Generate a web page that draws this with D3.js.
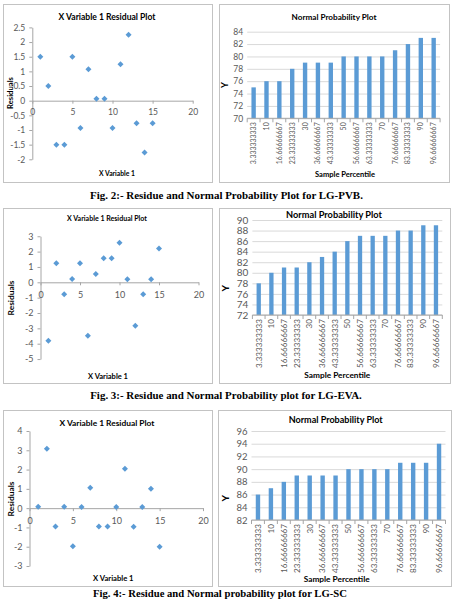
<!DOCTYPE html>
<html>
<head>
<meta charset="utf-8">
<script src="https://cdn.jsdelivr.net/npm/d3@7/dist/d3.min.js"></script>
<style>
  html, body { margin: 0; padding: 0; background: #fff; }
  svg { display: block; }
</style>
</head>
<body>
<svg id="fig" width="454" height="600"></svg>
<script>
// ---------------- DATA ----------------
const xVariable = [1, 2, 3, 4, 5, 6, 7, 8, 9, 10, 11, 12, 13, 14, 15];

// Residuals, Fig. 2 (LG-PVB)
const residualsPVB = [1.5, 0.5, -1.5, -1.5, 1.5, -0.93, 1.07, 0.07, 0.07, -0.93, 1.24, 2.25, -0.77, -1.77, -0.77];
// Residuals, Fig. 3 (LG-EVA)
const residualsEVA = [-3.8, 1.24, -0.78, 0.22, 1.24, -3.48, 0.54, 1.56, 1.56, 2.58, 0.2, -2.83, -0.78, 0.2, 2.21];
// Residuals, Fig. 4 (LG-SC)
const residualsSC = [0.07, 3.08, -0.95, 0.07, -1.97, 0.06, 1.06, -0.95, -0.95, 0.06, 2.04, -0.97, 0.06, 1.0, -2.0];

const samplePercentile = ["3.333333333", "10", "16.66666667", "23.33333333", "30", "36.66666667",
  "43.33333333", "50", "56.66666667", "63.33333333", "70", "76.66666667", "83.33333333", "90", "96.66666667"];

// Normal probability Y values
const yPVB = [75, 76, 76, 78, 79, 79, 79, 80, 80, 80, 80, 81, 82, 83, 83];
const yEVA = [78, 80, 81, 81, 82, 83, 84, 86, 87, 87, 87, 88, 88, 89, 89];
const ySC  = [86, 87, 88, 89, 89, 89, 89, 90, 90, 90, 90, 91, 91, 91, 94];

// Tick labels
const residualXTicks = [0, 5, 10, 15, 20];
const residualYTicksPVB = [-2, -1.5, -1, -0.5, 0, 0.5, 1, 1.5, 2, 2.5];
const residualYTicksEVA = [-5, -4, -3, -2, -1, 0, 1, 2, 3];
const residualYTicksSC  = [-3, -2, -1, 0, 1, 2, 3, 4];
const probYTicksPVB = [70, 72, 74, 76, 78, 80, 82, 84];
const probYTicksEVA = [72, 74, 76, 78, 80, 82, 84, 86, 88, 90];
const probYTicksSC  = [82, 84, 86, 88, 90, 92, 94, 96];

const residualTitle = "X Variable 1  Residual Plot";
const residualXTitle = "X Variable 1";
const residualYTitle = "Residuals";
const probTitle = "Normal Probability Plot";
const probXTitle = "Sample Percentile";
const probYTitle = "Y";
const captions = [
  "Fig. 2:- Residue and Normal Probability Plot for LG-PVB.",
  "Fig. 3:- Residue and Normal Probability plot for LG-EVA.",
  "Fig. 4:- Residue and Normal probability plot for LG-SC"
];

// ---------------- DRAWING ----------------
const svg = d3.select("#fig");
const FONT = "Lato, 'Open Sans', 'Liberation Sans', sans-serif";
const BLUE = "#5b9bd5";
const LABEL = "#595959";
const AXIS = "#a6a6a6";
const GRID = "#d9d9d9";
const BORDER = "#c3c3c3";

function fit(sel, target) {
  const w = sel.node().getComputedTextLength();
  const fs = parseFloat(sel.attr("font-size"));
  if (w > 0) sel.attr("font-size", (fs * target / w).toFixed(2));
  return sel;
}

function panel(p) {
  svg.append("rect").attr("x", p.x + 0.5).attr("y", p.y + 0.5)
    .attr("width", p.w).attr("height", p.h)
    .attr("fill", "#fff").attr("stroke", BORDER).attr("stroke-width", 1);
}

function title(t, cx, cy, w, fs) {
  const s = svg.append("text").attr("x", cx).attr("y", cy).attr("dy", "0.35em")
    .attr("text-anchor", "middle").attr("font-family", FONT).attr("font-weight", "bold")
    .attr("font-size", fs || 10).attr("fill", "#000").text(t);
  if (w) fit(s, w);
  return s;
}

function vtitle(t, cx, cy, len, fs) {
  const s = svg.append("text").attr("transform", `translate(${cx},${cy}) rotate(-90)`)
    .attr("dy", "0.35em").attr("text-anchor", "middle").attr("font-family", FONT)
    .attr("font-weight", "bold").attr("font-size", fs || 9).attr("fill", "#000").text(t);
  if (len) fit(s, len);
  return s;
}

function residualPlot(c, values) {
  panel(c.panel);
  const x = d3.scaleLinear().domain([0, 20]).range(c.xRange);
  const y = d3.scaleLinear().domain(c.yDomain).range(c.yRange);

  // y axis
  const gy = svg.append("g").attr("transform", `translate(${c.xRange[0]},0)`)
    .call(d3.axisLeft(y).tickValues(c.yTicks).tickSizeInner(3).tickSizeOuter(0)
      .tickPadding(4).tickFormat(d => String(d)));
  gy.selectAll("path, line").attr("stroke", AXIS);
  gy.selectAll("text").attr("font-family", FONT).attr("font-size", c.tickFs).attr("fill", LABEL);

  // x axis crossing at 0
  const gx = svg.append("g").attr("transform", `translate(0,${y(0)})`)
    .call(d3.axisBottom(x).tickValues(residualXTicks).tickSizeInner(3).tickSizeOuter(0)
      .tickPadding(c.xPad).tickFormat(d => String(d)));
  gx.selectAll("path, line").attr("stroke", AXIS);
  gx.selectAll("text").attr("font-family", FONT).attr("font-size", c.tickFs).attr("fill", LABEL);

  // points
  const sym = d3.symbol(d3.symbolSquare, 18);
  svg.append("g").selectAll("path").data(xVariable.map((v, i) => [v, values[i]]))
    .join("path")
    .attr("d", sym)
    .attr("transform", d => `translate(${x(d[0])},${y(d[1])}) rotate(45)`)
    .attr("fill", BLUE);

  title(residualTitle, c.title[0], c.title[1], c.title[2]);
  vtitle(residualYTitle, c.ytitle[0], c.ytitle[1], c.ytitle[2]);
  title(residualXTitle, c.xtitle[0], c.xtitle[1], c.xtitle[2]);
}

function probPlot(c, values) {
  panel(c.panel);
  const x = d3.scaleBand().domain(samplePercentile).range(c.xRange)
    .paddingInner(0.66).paddingOuter(0.33);
  const y = d3.scaleLinear().domain(c.yDomain).range(c.yRange);
  const w = c.xRange[1] - c.xRange[0];

  // gridlines + labels
  const gy = svg.append("g").attr("transform", `translate(${c.xRange[0]},0)`)
    .call(d3.axisLeft(y).tickValues(c.yTicks).tickSize(-w).tickPadding(4).tickFormat(d => String(d)));
  gy.select(".domain").remove();
  gy.selectAll("line").attr("stroke", GRID);
  gy.selectAll("text").attr("font-family", FONT).attr("font-size", c.tickFs).attr("fill", LABEL);

  // bars
  svg.append("g").selectAll("rect").data(samplePercentile.map((p, i) => [p, values[i]]))
    .join("rect")
    .attr("x", d => x(d[0]))
    .attr("width", x.bandwidth())
    .attr("y", d => y(d[1]))
    .attr("height", d => y(c.yDomain[0]) - y(d[1]))
    .attr("fill", BLUE);

  // category axis
  const base = y(c.yDomain[0]);
  const gx = svg.append("g").attr("transform", `translate(0,${base})`);
  gx.append("line").attr("x1", c.xRange[0]).attr("x2", c.xRange[1])
    .attr("stroke", AXIS);
  const bounds = d3.range(samplePercentile.length + 1).map(i => c.xRange[0] + i * x.step());
  gx.selectAll("line.tk").data(bounds).join("line").attr("class", "tk")
    .attr("x1", d => d).attr("x2", d => d).attr("y1", 0).attr("y2", 4).attr("stroke", AXIS);
  const labels = gx.selectAll("text").data(samplePercentile).join("text")
    .attr("transform", d => `translate(${x(d) + x.bandwidth() / 2},${4}) rotate(-90)`)
    .attr("dy", "0.35em").attr("text-anchor", "end")
    .attr("font-family", FONT).attr("font-size", 9).attr("fill", LABEL)
    .text(d => d);
  const longest = labels.filter((d, i) => i === 0);
  fit(longest, c.catLen);
  labels.attr("font-size", longest.attr("font-size"));

  title(probTitle, c.title[0], c.title[1], c.title[2]);
  vtitle(probYTitle, c.ytitle[0], c.ytitle[1], null, c.ytitle[2]);
  title(probXTitle, c.xtitle[0], c.xtitle[1], c.xtitle[2]);
}

// Fig. 2
residualPlot({
  panel: { x: 3, y: 4, w: 209, h: 178 },
  xRange: [32.3, 192.7], yDomain: [-2, 2.5], yRange: [159.3, 27.4],
  yTicks: residualYTicksPVB, tickFs: 8.5, xPad: 5,
  title: [107, 17, 97], ytitle: [10, 93, 32], xtitle: [117, 174, 36]
}, residualsPVB);
probPlot({
  panel: { x: 219, y: 4, w: 230, h: 178 },
  xRange: [247.2, 440.1], yDomain: [70, 84], yRange: [118.3, 31.7],
  yTicks: probYTicksPVB, tickFs: 8.5, catLen: 42,
  title: [334, 17, 85], ytitle: [225, 85, 9], xtitle: [345, 174, 60]
}, yPVB);

// Fig. 3
residualPlot({
  panel: { x: 3, y: 208, w: 209, h: 175 },
  xRange: [40.5, 198.5], yDomain: [-5, 3], yRange: [359.05, 236.25],
  yTicks: residualYTicksEVA, tickFs: 9, xPad: 6,
  title: [107, 218.3, 80], ytitle: [10.7, 298, 35], xtitle: [108, 376.7, 40]
}, residualsEVA);
probPlot({
  panel: { x: 219, y: 208, w: 231, h: 175 },
  xRange: [252.4, 442.3], yDomain: [72, 90], yRange: [315, 220],
  yTicks: probYTicksEVA, tickFs: 10, catLen: 49,
  title: [334, 214.3, 96], ytitle: [225, 288.3, 10], xtitle: [337.3, 375, 66]
}, yEVA);

// Fig. 4
residualPlot({
  panel: { x: 3, y: 410, w: 209, h: 176 },
  xRange: [29.5, 203], yDomain: [-3, 4], yRange: [566, 431],
  yTicks: residualYTicksSC, tickFs: 9, xPad: 6,
  title: [107, 423.3, 95], ytitle: [10.7, 499, 35], xtitle: [113.3, 578.3, 40.5]
}, residualsSC);
probPlot({
  panel: { x: 218, y: 410, w: 233, h: 176 },
  xRange: [251.5, 445.5], yDomain: [82, 96], yRange: [520, 431],
  yTicks: probYTicksSC, tickFs: 9.5, catLen: 49,
  title: [335.7, 420, 94], ytitle: [225, 498.3, 10], xtitle: [336.7, 579.3, 66]
}, ySC);

// captions
const capPos = [[226.5, 195, 273], [226, 395, 272], [220, 593.5, 254]];
captions.forEach((t, i) => {
  const s = svg.append("text").attr("x", capPos[i][0]).attr("y", capPos[i][1]).attr("dy", "0.35em")
    .attr("text-anchor", "middle").attr("font-family", "'Liberation Serif', 'Times New Roman', serif")
    .attr("font-weight", "bold").attr("font-size", 12.5).attr("fill", "#000").text(t);
  fit(s, capPos[i][2]);
});
</script>
</body>
</html>
